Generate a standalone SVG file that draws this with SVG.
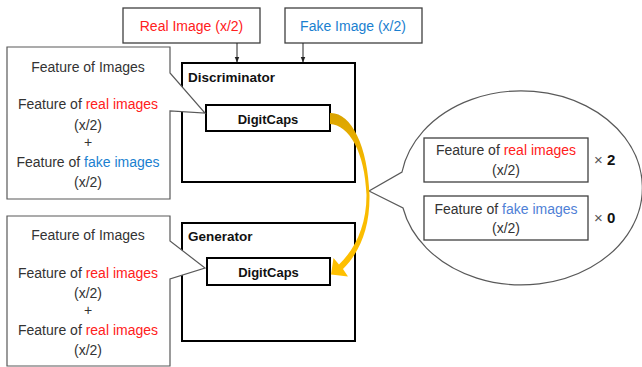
<svg xmlns="http://www.w3.org/2000/svg" width="642" height="367" viewBox="0 0 642 367">
<style>
text{font-family:"Liberation Sans",Arial,sans-serif;font-size:14px;fill:#333}
.c{text-anchor:middle}
.b{font-weight:bold;fill:#111;font-size:13.5px}
.red{fill:#ff2020}
.blue{fill:#1a7fd0}
.blue2{fill:#4f7fd6}
.in{fill:#fff;stroke:#404040;stroke-width:1.3}
.blk{fill:#fff;stroke:#000;stroke-width:2}
.call{fill:#fff;stroke:#595959;stroke-width:1.2}
.ln{stroke:#222;stroke-width:1;fill:none}
</style>
<defs>
<marker id="ah" viewBox="0 0 10 10" refX="9" refY="5" markerWidth="6" markerHeight="6" orient="auto">
<path d="M0,1 L10,5 L0,9 z" fill="#222"/>
</marker>
<linearGradient id="yg" x1="0" y1="0" x2="0" y2="1" gradientUnits="objectBoundingBox">
<stop offset="0" stop-color="#d9a300"/>
<stop offset="0.3" stop-color="#f5b800"/>
<stop offset="1" stop-color="#ffc000"/>
</linearGradient>
</defs>

<g id="real-input">
<rect class="in" x="123" y="8" width="137" height="35"/>
<text class="c red" x="191.5" y="31">Real Image (x/2)</text>
</g>
<g id="fake-input">
<rect class="in" x="285" y="8" width="137" height="35"/>
<text class="c blue" x="353" y="31">Fake Image (x/2)</text>
</g>

<g id="discriminator">
<rect class="blk" x="182" y="63" width="173" height="119"/>
<text class="b" x="188" y="82">Discriminator</text>
</g>
<g id="disc-digitcaps">
<rect class="blk" x="206" y="105" width="124" height="26"/>
<text class="c b" x="268" y="123.5" style="font-size:13px">DigitCaps</text>
</g>

<g id="generator">
<rect class="blk" x="182" y="223" width="173" height="118"/>
<text class="b" x="188" y="241">Generator</text>
</g>
<g id="gen-digitcaps">
<rect class="blk" x="207" y="258" width="123" height="27"/>
<text class="c b" x="268.5" y="277" style="font-size:13px">DigitCaps</text>
</g>

<g id="disc-callout">
<path class="call" d="M7,47 H170 V73 L205,113 L170,111 V199 H7 Z"/>
<text class="c" x="88" y="72">Feature of Images</text>
<text class="c" x="88" y="109">Feature of <tspan class="red">real images</tspan></text>
<text class="c" x="88" y="130">(x/2)</text>
<text class="c" x="88" y="147">+</text>
<text class="c" x="88" y="167">Feature of <tspan class="blue">fake images</tspan></text>
<text class="c" x="88" y="187">(x/2)</text>
</g>

<g id="gen-callout">
<path class="call" d="M7,216 H170 V241 L205,268 L170,279 V366 H7 Z"/>
<text class="c" x="88" y="240">Feature of Images</text>
<text class="c" x="88" y="278">Feature of <tspan class="red">real images</tspan></text>
<text class="c" x="88" y="298">(x/2)</text>
<text class="c" x="88" y="315">+</text>
<text class="c" x="88" y="335">Feature of <tspan class="red">real images</tspan></text>
<text class="c" x="88" y="355">(x/2)</text>
</g>

<g id="balloon">
<path class="call" d="M402,172 A121,97 0 1 1 403,208 L369,191 Z"/>
</g>
<g id="real-feature">
<rect class="in" x="424" y="138" width="164" height="44"/>
<text class="c" x="506" y="155">Feature of <tspan class="red">real images</tspan></text>
<text class="c" x="506" y="175">(x/2)</text>
<text x="594" y="165" style="font-size:15px;fill:#555">×<tspan style="font-weight:bold;fill:#111"> 2</tspan></text>
</g>
<g id="fake-feature">
<rect class="in" x="424" y="196" width="164" height="44"/>
<text class="c" x="506" y="214">Feature of <tspan class="blue2">fake images</tspan></text>
<text class="c" x="506" y="233">(x/2)</text>
<text x="594" y="223" style="font-size:15px;fill:#555">×<tspan style="font-weight:bold;fill:#111"> 0</tspan></text>
</g>

<g id="connectors">
<line class="ln" x1="237" y1="43" x2="237" y2="62" marker-end="url(#ah)"/>
<line class="ln" x1="303" y1="43" x2="303" y2="62" marker-end="url(#ah)"/>
<path fill="url(#yg)" d="M330,113 C351,112 368,146 369.5,195 C370,228 360,252 343,269 L348,276.5 L331,274.5 L333.5,258 L339,264.5 C355,249 366.5,226 366.5,195 C365,152 349,125 330,124 Z"/>
</g>
</svg>
